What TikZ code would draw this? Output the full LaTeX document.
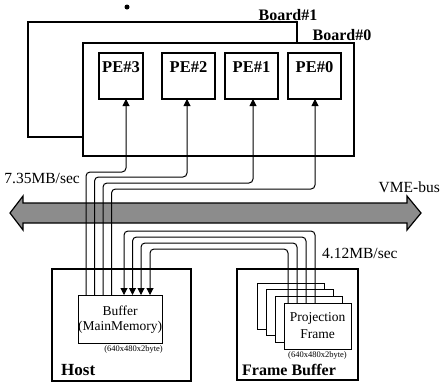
\documentclass[tikz,border=0pt]{standalone}
\usepackage{fontspec}
\setmainfont{Liberation Serif}
\usetikzlibrary{calc,arrows.meta}
\begin{document}
\begin{tikzpicture}[x=1pt,y=-1pt,
  thickbox/.style={draw, line width=1.9pt, rectangle, anchor=north west, inner sep=0pt, outer sep=0pt},
  thinbox/.style={draw, line width=1pt, fill=white, rectangle, anchor=north west, inner sep=0pt, outer sep=0pt},
  flow/.style={line width=1pt, rounded corners=4pt},
  tip/.style={-{Triangle[width=7pt,length=7pt]}},
  lbl/.style={font=\fontsize{15.5}{15.5}\selectfont, inner sep=0pt},
  blbl/.style={font=\fontsize{16}{16}\selectfont\bfseries, inner sep=0pt},
  pelbl/.style={font=\fontsize{16.5}{16.5}\selectfont\bfseries, inner sep=0pt},
  mlbl/.style={font=\fontsize{13.5}{14}\selectfont, inner sep=0pt},
  tinylbl/.style={font=\fontsize{8.5}{9}\selectfont, inner sep=0pt}]
\useasboundingbox (0,0) rectangle (443,384);
% boards
\node[thickbox, minimum width=269pt, minimum height=115pt] (b1) at (28,22) {};
\node[thickbox, fill=white, minimum width=271pt, minimum height=113pt] (b0) at (83,43) {};
\fill (127,7) circle (2.5pt);
\node[blbl] (b1t) at (288,15) {Board\#1};
\node[blbl] (b0t) at (342,35) {Board\#0};
% PEs
\node[thickbox, minimum width=44pt, minimum height=46pt] (pe3) at (99,53) {};
\node[thickbox, minimum width=53pt, minimum height=46pt] (pe2) at (162,53) {};
\node[thickbox, minimum width=53pt, minimum height=46pt] (pe1) at (225,53) {};
\node[thickbox, minimum width=53pt, minimum height=46pt] (pe0) at (288,53) {};
\node[pelbl] (pe3t) at ($(pe3.north)+(0,14)$) {PE\#3};
\node[pelbl] (pe2t) at ($(pe2.north)+(0,14)$) {PE\#2};
\node[pelbl] (pe1t) at ($(pe1.north)+(0,14)$) {PE\#1};
\node[pelbl] (pe0t) at ($(pe0.north)+(0,14)$) {PE\#0};
% bus
\coordinate (busL) at (10,213);
\coordinate (busR) at (421,213);
\draw[line width=1.2pt, fill=black!45] (busL) -- (23,196) -- (23,203) -- (407,203) -- (407,196) -- (busR)
  -- (407,230) -- (407,223) -- (23,223) -- (23,230) -- cycle;
\node[lbl, anchor=east] (vme) at (440,187) {VME-bus};
% host and frame buffer
\node[thickbox, minimum width=139pt, minimum height=112pt] (host) at (52,269) {};
\node[thickbox, minimum width=121pt, minimum height=111pt] (fb) at (237,269) {};
\node[thinbox, minimum width=84pt, minimum height=48pt] (buf) at (78,295) {};
\node[mlbl] (buft1) at ($(buf.center)+(0,-8)$) {Buffer};
\node[mlbl] (buft2) at ($(buf.center)+(0,8)$) {(MainMemory)};
\node[tinylbl, anchor=north east] (bufsz) at ($(buf.south east)+(1,2)$) {(640x480x2byte)};
\node[anchor=west, inner sep=0pt, font=\fontsize{17}{17}\selectfont\bfseries] (hostt) at (61,370) {Host};
\node[anchor=west, inner sep=0pt, font=\fontsize{16}{16}\selectfont\bfseries] (fbt) at (242,370) {Frame Buffer};
\node[thinbox, minimum width=67pt, minimum height=46pt] (f1) at (257,283) {};
\node[thinbox, minimum width=67pt, minimum height=46pt] (f2) at (266,289.7) {};
\node[thinbox, minimum width=67pt, minimum height=46pt] (f3) at (275,296.3) {};
\node[thinbox, minimum width=67pt, minimum height=46pt] (f4) at (284,303) {};
\node[mlbl] (f4t1) at ($(f4.center)+(0,-8)$) {Projection};
\node[mlbl] (f4t2) at ($(f4.center)+(0,8)$) {Frame};
\node[tinylbl, anchor=north] (fsz) at ($(f4.south)+(0,2)$) {(640x480x2byte)};
% host -> PEs
\draw[flow,tip] ($(buf.north west)+(8,0)$) |- ($(pe3.south)+(5,73)$) -- ($(pe3.south)+(5,0)$);
\draw[flow,tip] ($(buf.north west)+(16.5,0)$) |- ($(pe2.south)+(-1.5,78)$) -- ($(pe2.south)+(-1.5,0)$);
\draw[flow,tip] ($(buf.north west)+(25,0)$) |- ($(pe1.south)+(1.5,84)$) -- ($(pe1.south)+(1.5,0)$);
\draw[flow,tip] ($(buf.north west)+(33.5,0)$) |- ($(pe0.south)+(0.5,90)$) -- ($(pe0.south)+(0.5,0)$);
\node[lbl, anchor=east] (r1) at (80,178) {7.35MB/sec};
% frame buffer -> host
\draw[flow,tip] ($(f4.north west)+(31,0)$) |- ($(buf.north west)+(46,-64)$) -- ($(buf.north west)+(46,0)$);
\draw[flow,tip] ($(f4.north west)+(22,0)$) |- ($(buf.north west)+(54.5,-58)$) -- ($(buf.north west)+(54.5,0)$);
\draw[flow,tip] ($(f4.north west)+(13,0)$) |- ($(buf.north west)+(63,-52)$) -- ($(buf.north west)+(63,0)$);
\draw[flow,tip] ($(f4.north west)+(4,0)$) |- ($(buf.north west)+(72,-46)$) -- ($(buf.north west)+(72,0)$);
\node[lbl, anchor=west] (r2) at (322,253) {4.12MB/sec};
\end{tikzpicture}
\end{document}
